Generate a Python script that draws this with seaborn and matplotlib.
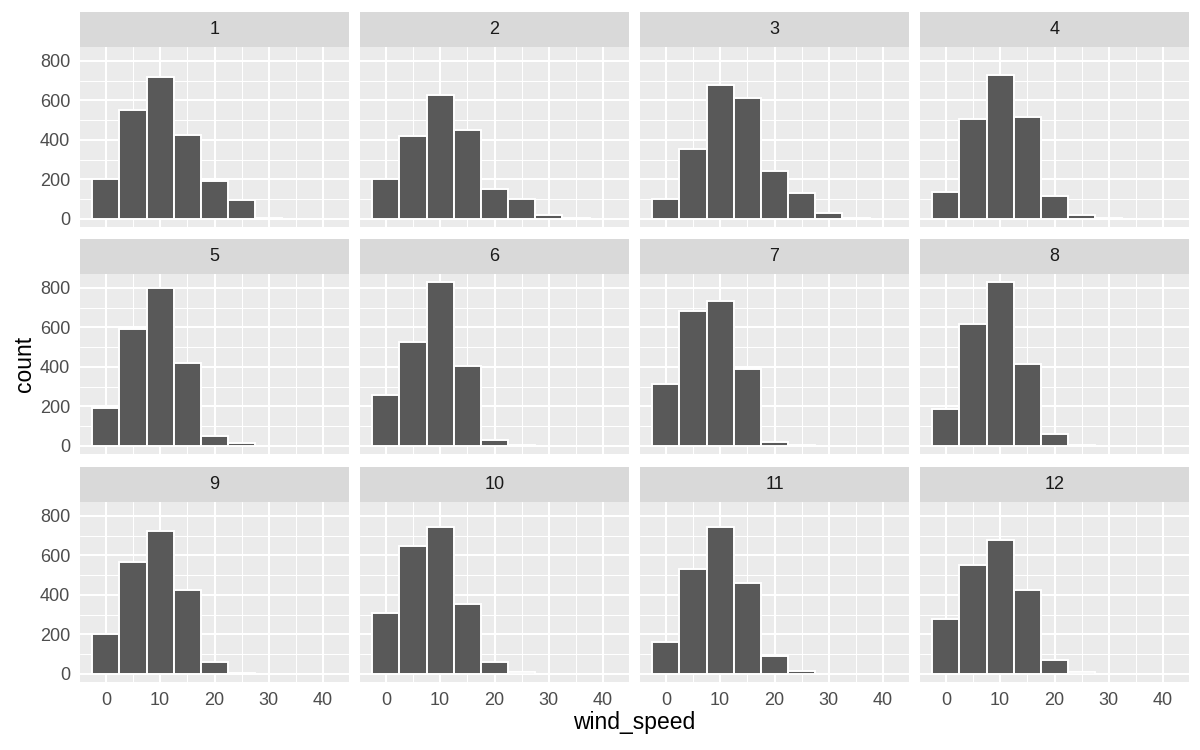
import numpy as np
import pandas as pd
import seaborn as sns
import matplotlib.pyplot as plt
from matplotlib.patches import Rectangle
from matplotlib.ticker import MultipleLocator

# histogram counts per month, bins of width 5 centred on these values
bin_centers = [0, 5, 10, 15, 20, 25, 30, 35, 40]
months = list(range(1, 13))

counts_1 = [200, 553, 720, 424, 194, 95, 5, 1, 0]
counts_2 = [202, 421, 625, 450, 151, 100, 17, 3, 0]
counts_3 = [102, 355, 677, 611, 241, 131, 27, 3, 0]
counts_4 = [138, 506, 727, 518, 114, 20, 2, 0, 0]
counts_5 = [192, 593, 800, 418, 51, 12, 1, 0, 1]
counts_6 = [258, 528, 829, 402, 27, 5, 0, 0, 0]
counts_7 = [314, 683, 735, 390, 20, 3, 0, 0, 0]
counts_8 = [185, 618, 829, 414, 58, 3, 0, 0, 0]
counts_9 = [204, 565, 723, 426, 60, 5, 1, 0, 1]
counts_10 = [308, 647, 744, 355, 61, 7, 0, 0, 1]
counts_11 = [160, 531, 745, 461, 90, 12, 0, 0, 0]
counts_12 = [277, 553, 677, 427, 72, 10, 0, 0, 0]

all_counts = [counts_1, counts_2, counts_3, counts_4, counts_5, counts_6,
              counts_7, counts_8, counts_9, counts_10, counts_11, counts_12]

rows = []
for m, cts in zip(months, all_counts):
    for c, n in zip(bin_centers, cts):
        rows.append({'month': m, 'wind_speed': c, 'count': n})
df = pd.DataFrame(rows)

sns.set_theme(style='white')
plt.rcParams['font.family'] = ['Liberation Sans', 'DejaVu Sans']

g = sns.FacetGrid(df, col='month', col_wrap=4, sharex=True, sharey=True,
                  height=2.4, aspect=1.5)
g.map_dataframe(sns.histplot, x='wind_speed', weights='count', binwidth=5,
                binrange=(-2.5, 42.5), color='#595959', edgecolor='white',
                linewidth=1.4, alpha=1)
g.set_axis_labels('', '')

fig = g.figure
fig.set_size_inches(12, 7.5)
W, H = 1200, 750

lefts = [80, 360, 640, 920]
tops = [47, 274, 502]
pw, ph, sh = 269, 180, 35

ymax = df['count'].max()
for i, ax in enumerate(g.axes.flat):
    r, c = i // 4, i % 4
    ax.set_position([lefts[c] / W, 1 - (tops[r] + ph) / H, pw / W, ph / H])
    ax.set_title('')
    ax.set_facecolor('#EBEBEB')
    for s in ax.spines.values():
        s.set_visible(False)
    ax.set_xlim(-4.75, 44.75)
    ax.set_ylim(-0.05 * ymax, 1.05 * ymax)
    ax.xaxis.set_major_locator(MultipleLocator(10))
    ax.xaxis.set_minor_locator(MultipleLocator(5))
    ax.yaxis.set_major_locator(MultipleLocator(200))
    ax.yaxis.set_minor_locator(MultipleLocator(100))
    ax.set_axisbelow(True)
    ax.grid(which='major', color='white', linewidth=1.5)
    ax.grid(which='minor', color='white', linewidth=0.75)
    ax.tick_params(which='minor', length=0)
    ax.tick_params(which='major', length=4.1, width=1.2, color='#333333',
                   labelcolor='#4D4D4D', labelsize=13, pad=3)
    ax.set_xlabel('')
    ax.set_ylabel('')
    if r < 2:
        ax.tick_params(axis='x', which='major', length=0, labelbottom=False)
    else:
        ax.tick_params(axis='x', labelbottom=True)
    if c > 0:
        ax.tick_params(axis='y', which='major', length=0, labelleft=False)
    else:
        ax.tick_params(axis='y', labelleft=True)

    ax.add_patch(Rectangle((0, 1), 1, sh / ph, transform=ax.transAxes,
                           clip_on=False, facecolor='#D9D9D9', edgecolor='none'))
    ax.text(0.5, 1 + sh / ph / 2, str(months[i]), transform=ax.transAxes,
            ha='center', va='center', fontsize=13, color='#1A1A1A')

fig.text(634 / W, 1 - 723 / H, 'wind_speed', ha='center', va='center',
         fontsize=16.5, color='black')
fig.text(24 / W, 1 - 364 / H, 'count', ha='center', va='center',
         fontsize=16.5, color='black', rotation=90)

fig.savefig('out.png', dpi=100)
